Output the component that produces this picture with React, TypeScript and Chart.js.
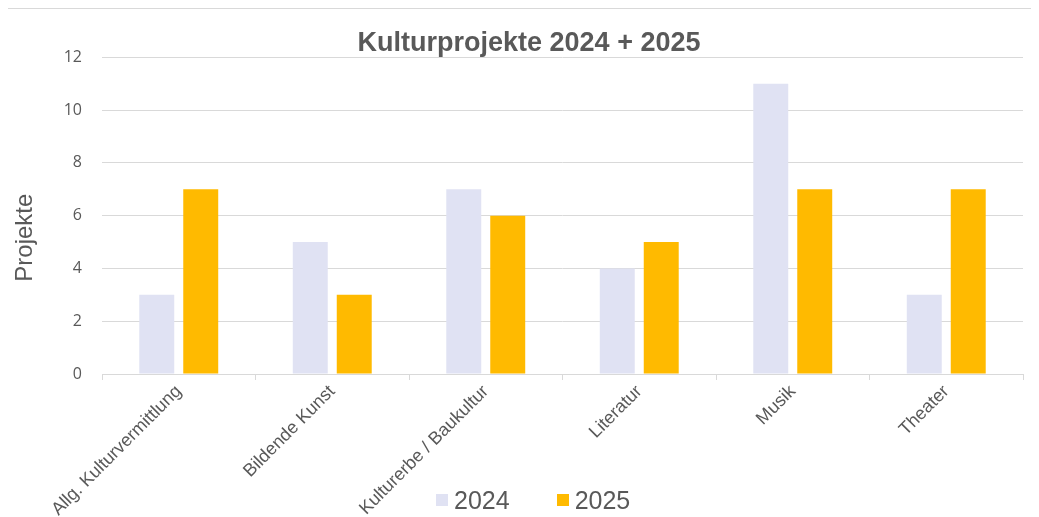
import React, { useEffect, useRef } from "react";
import { Chart, registerables } from "chart.js";

Chart.register(...registerables);

const categories = [
  "Allg. Kulturvermittlung",
  "Bildende Kunst",
  "Kulturerbe / Baukultur",
  "Literatur",
  "Musik",
  "Theater",
];
const seriesNames = ["2024", "2025"];
const values2024 = [3, 5, 7, 4, 11, 3];
const values2025 = [7, 3, 6, 5, 7, 7];
const seriesColors = ["#e0e2f3", "#ffba00"];
const chartTitle = "Kulturprojekte 2024 + 2025";
const yAxisTitle = "Projekte";
const yMax = 12;
const yStep = 2;

const TEXT = "#595959";
const GRID = "#d9d9d9";
const FONT = "'Liberation Sans', Arial, sans-serif";

const yTitlePlugin = {
  id: "yTitleOverlay",
  afterDraw(chart: any) {
    const { ctx, chartArea } = chart;
    ctx.save();
    ctx.translate(17, (chartArea.top + chartArea.bottom) / 2 + 22);
    ctx.rotate(-Math.PI / 2);
    ctx.font = `24px ${FONT}`;
    ctx.fillStyle = TEXT;
    ctx.textAlign = "center";
    ctx.textBaseline = "middle";
    ctx.fillText(yAxisTitle, 0, 0);
    ctx.restore();
  },
};

export default function App() {
  const ref = useRef<HTMLCanvasElement | null>(null);

  useEffect(() => {
    if (!ref.current) return;
    const chart = new Chart(ref.current, {
      type: "bar",
      data: {
        labels: categories,
        datasets: [
          {
            label: seriesNames[0],
            data: values2024,
            backgroundColor: seriesColors[0],
            categoryPercentage: 0.573,
            barPercentage: 0.795,
          },
          {
            label: seriesNames[1],
            data: values2025,
            backgroundColor: seriesColors[1],
            categoryPercentage: 0.573,
            barPercentage: 0.795,
          },
        ],
      },
      plugins: [yTitlePlugin],
      options: {
        responsive: false,
        animation: false,
        layout: { padding: { left: 27, right: 16, top: 0, bottom: 0 } },
        plugins: {
          legend: { display: false },
          tooltip: { enabled: false },
          title: {
            display: true,
            text: chartTitle,
            color: TEXT,
            font: { family: FONT, size: 27, weight: "bold" },
            padding: { top: 18, bottom: -2 },
          },
        },
        scales: {
          x: {
            afterFit: (scale: any) => {
              scale.height = 143;
            },
            grid: {
              display: true,
              drawOnChartArea: false,
              drawTicks: true,
              tickLength: 6,
              color: GRID,
            },
            border: { display: true, color: GRID, width: 1 },
            ticks: {
              color: TEXT,
              font: { family: FONT, size: 18 },
              minRotation: 45,
              maxRotation: 45,
              padding: 1,
              autoSkip: false,
            },
          },
          y: {
            min: 0,
            max: yMax,
            afterFit: (scale: any) => {
              scale.width = 67;
            },
            grid: { color: GRID, drawTicks: false },
            border: { display: false },
            ticks: {
              stepSize: yStep,
              color: TEXT,
              font: { family: "'Open Sans', sans-serif", size: 16 },
              padding: 20,
            },
          },
        },
      },
    });
    return () => chart.destroy();
  }, []);

  return (
    <div
      style={{
        position: "relative",
        width: 1032,
        height: 509,
        marginLeft: -1,
        borderLeft: `1px solid ${GRID}`,
        borderTop: `1px solid ${GRID}`,
        boxSizing: "border-box",
      }}
    >
      <canvas ref={ref} width={1031} height={508} style={{ display: "block" }} />
      <div
        style={{
          position: "absolute",
          left: 428,
          top: 476,
          height: 30,
          display: "flex",
          alignItems: "center",
          fontFamily: FONT,
          fontSize: 25,
          color: TEXT,
          lineHeight: "30px",
        }}
      >
        {seriesNames.map((name, i) => (
          <div
            key={name}
            style={{ display: "flex", alignItems: "center", marginRight: i === 0 ? 47 : 0 }}
          >
            <span
              style={{
                display: "inline-block",
                width: 12,
                height: 12,
                background: seriesColors[i],
                marginRight: 6,
              }}
            />
            <span>{name}</span>
          </div>
        ))}
      </div>
    </div>
  );
}
